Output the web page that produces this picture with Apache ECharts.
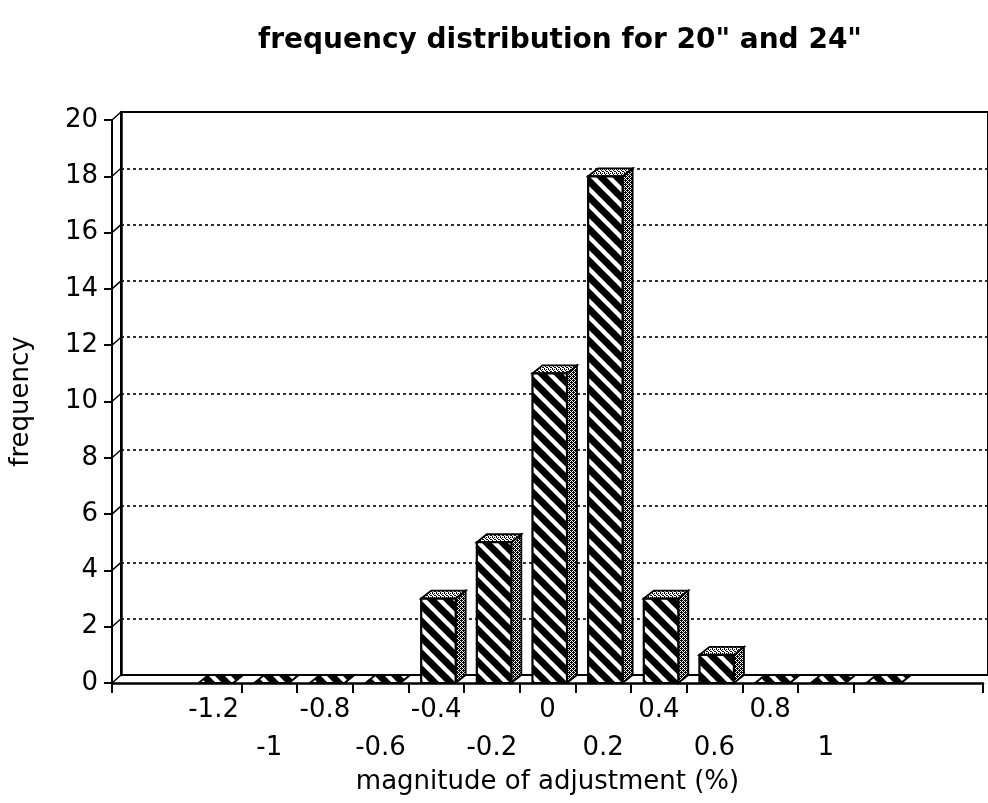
<!DOCTYPE html>
<html>
<head>
<meta charset="utf-8">
<script src="https://cdn.jsdelivr.net/npm/echarts@6/dist/echarts.min.js"></script>
<style>
html,body{margin:0;padding:0;background:#fff;}
#chart{width:988px;height:803px;}
</style>
</head>
<body>
<div id="chart"></div>
<script>
// ---- data ----
var categories = [-1.2, -1, -0.8, -0.6, -0.4, -0.2, 0, 0.2, 0.4, 0.6, 0.8, 1, 1.2];
var frequencies = [0, 0, 0, 0, 3, 5, 11, 18, 3, 1, 0, 0, 0];
var labelsRowA = [-1.2, -0.8, -0.4, 0, 0.4, 0.8];
var labelsRowB = [-1, -0.6, -0.2, 0.2, 0.6, 1];
var xTickValues = [-1.565, -1.1, -0.9, -0.7, -0.5, -0.3, -0.1, 0.1, 0.3, 0.5, 0.7, 0.9, 1.1, 1.565];
var yTickValues = [0, 2, 4, 6, 8, 10, 12, 14, 16, 18, 20];

// ---- style constants ----
var X_MIN = -1.565, X_MAX = 1.565;
var HALF = 0.062;      // half bar width in axis units
var SHIFT = 0.008;     // small drawing offset of bars to the right
var DX = 10, DY = -8;  // 3D depth offset
var FONT = 'DejaVu Sans';

function makePattern(w, h, draw) {
  var c = document.createElement('canvas');
  c.width = w; c.height = h;
  draw(c.getContext('2d'), w, h);
  return { image: c, repeat: 'repeat' };
}
var hatch = makePattern(16, 16, function (g, w, h) {
  g.fillStyle = '#000'; g.fillRect(0, 0, w, h);
  g.strokeStyle = '#fff'; g.lineWidth = 4.4;
  [-16, 0, 16].forEach(function (o) {
    g.beginPath(); g.moveTo(o - 3, -3); g.lineTo(o + 19, 19); g.stroke();
  });
});
function dots(dark) {
  return makePattern(4, 4, function (g, w, h) {
    g.fillStyle = '#fff'; g.fillRect(0, 0, w, h);
    g.fillStyle = '#000';
    var pts = dark
      ? [[0,0],[2,0],[1,1],[3,1],[0,2],[2,2],[1,3],[3,3],[1,0],[3,2]]
      : [[0,0],[2,1],[1,2],[3,3],[2,3],[0,1]];
    pts.forEach(function (p) { g.fillRect(p[0], p[1], 1, 1); });
  });
}
var sideFill = dots(true);
var topFill = dots(false);

var barData = categories.map(function (c, i) { return [c, frequencies[i]]; });

function renderBar(params, api) {
  var x = api.value(0) + SHIFT, v = api.value(1);
  var pL = api.coord([x - HALF, v]);
  var pR = api.coord([x + HALF, v]);
  var pB = api.coord([x, 0]);
  var x0 = pL[0], x1 = pR[0], yt = pL[1], yb = pB[1];
  return {
    type: 'group',
    children: [
      { type: 'polygon', shape: { points: [[x1, yt], [x1 + DX, yt + DY], [x1 + DX, yb + DY], [x1, yb]] },
        style: { fill: sideFill, stroke: '#000', lineWidth: 1.8 } },
      { type: 'polygon', shape: { points: [[x0, yt], [x0 + DX, yt + DY], [x1 + DX, yt + DY], [x1, yt]] },
        style: { fill: v > 0 ? topFill : hatch, stroke: '#000', lineWidth: 1.8 } },
      { type: 'rect', shape: { x: x0, y: yt, width: x1 - x0, height: yb - yt },
        style: { fill: hatch, stroke: '#000', lineWidth: 2.2 } }
    ]
  };
}
function renderConnector(params, api) {
  var p = api.coord([X_MIN, api.value(0)]);
  return { type: 'line', shape: { x1: p[0], y1: p[1], x2: p[0] + DX - 1, y2: p[1] + DY },
           style: { stroke: '#000', lineWidth: 1.5 } };
}
function fmt(v) { return String(+(+v).toFixed(1)); }

var chart = echarts.init(document.getElementById('chart'), null, { renderer: 'canvas' });
chart.setOption({
  animation: false,
  backgroundColor: '#fff',
  title: {
    text: 'frequency distribution for 20" and 24"',
    left: 555, top: 22, textAlign: 'center',
    textStyle: { fontFamily: FONT, fontWeight: 'bold', fontSize: 28, color: '#000' }
  },
  grid: [
    { left: 121, top: 112, width: 871, height: 563, show: true, borderColor: '#000', borderWidth: 2, backgroundColor: 'transparent' },
    { left: 112, top: 120, width: 871, height: 563 }
  ],
  xAxis: [
    { gridIndex: 0, type: 'value', min: X_MIN, max: X_MAX, show: false },
    { gridIndex: 1, type: 'value', min: X_MIN, max: X_MAX, position: 'bottom',
      axisLine: { show: true, onZero: false, lineStyle: { color: '#000', width: 2.5 } },
      axisTick: { show: true, length: 10, lineStyle: { color: '#000', width: 2 }, customValues: xTickValues },
      axisLabel: { customValues: labelsRowA, formatter: fmt, margin: 14, color: '#000', fontFamily: FONT, fontSize: 26 },
      splitLine: { show: false },
      name: 'magnitude of adjustment (%)', nameLocation: 'middle', nameGap: 86,
      nameTextStyle: { fontFamily: FONT, fontSize: 26, color: '#000' } },
    { gridIndex: 1, type: 'value', min: X_MIN, max: X_MAX, position: 'bottom', offset: 38,
      axisLine: { show: false, onZero: false }, axisTick: { show: false },
      axisLabel: { customValues: labelsRowB, formatter: fmt, margin: 14, color: '#000', fontFamily: FONT, fontSize: 26 },
      splitLine: { show: false } }
  ],
  yAxis: [
    { gridIndex: 0, type: 'value', min: 0, max: 20, interval: 2,
      axisLine: { show: true, onZero: false, lineStyle: { color: '#000', width: 2.5 } },
      axisTick: { show: false }, axisLabel: { show: false },
      splitLine: { show: true, lineStyle: { color: '#000', width: 1.6, type: [3, 3] } } },
    { gridIndex: 1, type: 'value', min: 0, max: 20, interval: 2,
      axisLine: { show: true, onZero: false, lineStyle: { color: '#000', width: 2 } },
      axisTick: { show: true, length: 8, lineStyle: { color: '#000', width: 2 } },
      axisLabel: { margin: 14, color: '#000', fontFamily: FONT, fontSize: 26 },
      splitLine: { show: false },
      name: 'frequency', nameLocation: 'middle', nameRotate: 90, nameGap: 78,
      nameTextStyle: { fontFamily: FONT, fontSize: 26, color: '#000' } }
  ],
  series: [
    { type: 'custom', xAxisIndex: 1, yAxisIndex: 1, data: yTickValues.map(function (v) { return [v]; }),
      renderItem: renderConnector, clip: false, silent: true, z: 3 },
    { type: 'custom', xAxisIndex: 1, yAxisIndex: 1, data: barData,
      encode: { x: 0, y: 1 }, renderItem: renderBar, clip: false, silent: true, z: 5 }
  ]
});
</script>
</body>
</html>
